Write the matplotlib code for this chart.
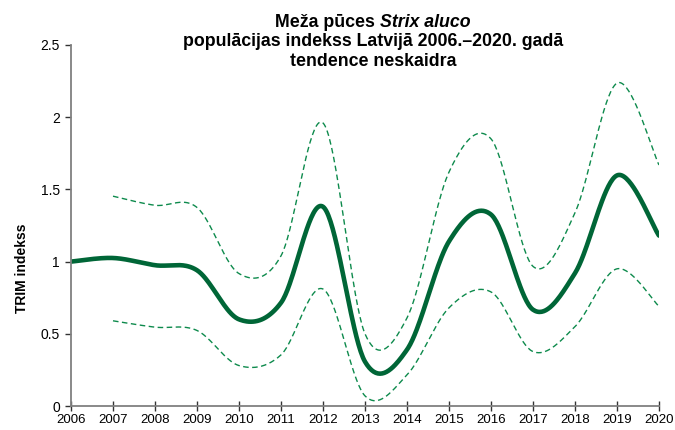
import numpy as np
import matplotlib
matplotlib.use("Agg")
import matplotlib.pyplot as plt

plt.rcParams['font.family'] = ['Liberation Sans', 'DejaVu Sans']

years = list(range(2006, 2021))
index_vals = [1.00, 1.025, 0.975, 0.94, 0.60, 0.715, 1.38, 0.307, 0.39, 1.14,
              1.326, 0.667, 0.92, 1.597, 1.18]
ci_years = list(range(2007, 2021))
upper_vals = [1.453, 1.39, 1.375, 0.917, 1.04, 1.96, 0.50, 0.61, 1.62, 1.85,
              0.967, 1.338, 2.236, 1.669]
lower_vals = [0.59, 0.546, 0.523, 0.28, 0.354, 0.81, 0.07, 0.215, 0.68, 0.79,
              0.377, 0.55, 0.95, 0.69]
y_ticks = [0, 0.5, 1, 1.5, 2, 2.5]
y_tick_labels = ['0', '0.5', '1', '1.5', '2', '2.5']

title_l1a = "Meža pūces "
title_l1b = "Strix aluco"
title_l2 = "populācijas indekss Latvijā 2006.–2020. gadā"
title_l3 = "tendence neskaidra"
ylabel = "TRIM indekss"


def smooth(xs, ys, n=40):
    """Catmull-Rom (Excel-like) smoothing through the points."""
    xs = np.asarray(xs, float)
    ys = np.asarray(ys, float)
    px = np.concatenate([[xs[0]], xs, [xs[-1]]])
    py = np.concatenate([[ys[0]], ys, [ys[-1]]])
    ox, oy = [], []
    for i in range(1, len(px) - 2):
        p0, p1, p2, p3 = (np.array([px[j], py[j]]) for j in (i - 1, i, i + 1, i + 2))
        c1 = p1 + (p2 - p0) / 6.0
        c2 = p2 - (p3 - p1) / 6.0
        t = np.linspace(0, 1, n)[:, None]
        pts = ((1 - t) ** 3) * p1 + 3 * ((1 - t) ** 2) * t * c1 + 3 * (1 - t) * t ** 2 * c2 + t ** 3 * p2
        ox.extend(pts[:, 0]); oy.extend(pts[:, 1])
    return np.array(ox), np.array(oy)


fig = plt.figure(figsize=(6.75, 4.3), dpi=100)
ax = fig.add_axes([71 / 675, 1 - 406 / 430, (659 - 71) / 675, (406 - 45) / 430])

dash_col = '#0d8a4c'
main_col = '#006637'

ux, uy = smooth(ci_years, upper_vals)
lx, ly = smooth(ci_years, lower_vals)
mx, my = smooth(years, index_vals)
ax.plot(ux, uy, color=dash_col, lw=1.0, dashes=(4, 2.5))
ax.plot(lx, ly, color=dash_col, lw=1.0, dashes=(4, 2.5))
ax.plot(mx, my, color=main_col, lw=3.3, solid_capstyle='round')

ax.set_xlim(2006, 2020)
ax.set_ylim(0, 2.5)
ax.set_xticks(years)
ax.set_xticklabels([str(y) for y in years], fontsize=9.5)
ax.set_yticks(y_ticks)
ax.set_yticklabels(y_tick_labels, fontsize=10)

for s in ['top', 'right']:
    ax.spines[s].set_visible(False)
for s in ['left', 'bottom']:
    ax.spines[s].set_color('#808080')
    ax.spines[s].set_linewidth(1.3)
ax.tick_params(axis='x', direction='inout', length=7, width=1, color='#333333', pad=2)
ax.tick_params(axis='y', direction='out', length=4, width=1, color='#333333', pad=4)

fig.text(22 / 675, 1 - 268 / 430, ylabel, rotation=90, fontsize=10, fontweight='bold',
         ha='center', va='center')

# Title
cx = 373 / 675
fs = 12.8
fig.canvas.draw()
r = fig.canvas.get_renderer()
ta = fig.text(0, 1 - 27 / 430, title_l1a, fontsize=fs, fontweight='bold', va='baseline', ha='left')
tb = fig.text(0, 1 - 27 / 430, title_l1b, fontsize=fs, fontweight='bold', style='italic',
              va='baseline', ha='left')
wa = ta.get_window_extent(r).width / fig.bbox.width
wb = tb.get_window_extent(r).width / fig.bbox.width
x0 = cx - (wa + wb) / 2
ta.set_x(x0)
tb.set_x(x0 + wa)
fig.text(cx, 1 - 46.5 / 430, title_l2, fontsize=fs, fontweight='bold', va='baseline', ha='center')
fig.text(cx, 1 - 66 / 430, title_l3, fontsize=fs, fontweight='bold', va='baseline', ha='center')

fig.savefig('out.png', dpi=100)
